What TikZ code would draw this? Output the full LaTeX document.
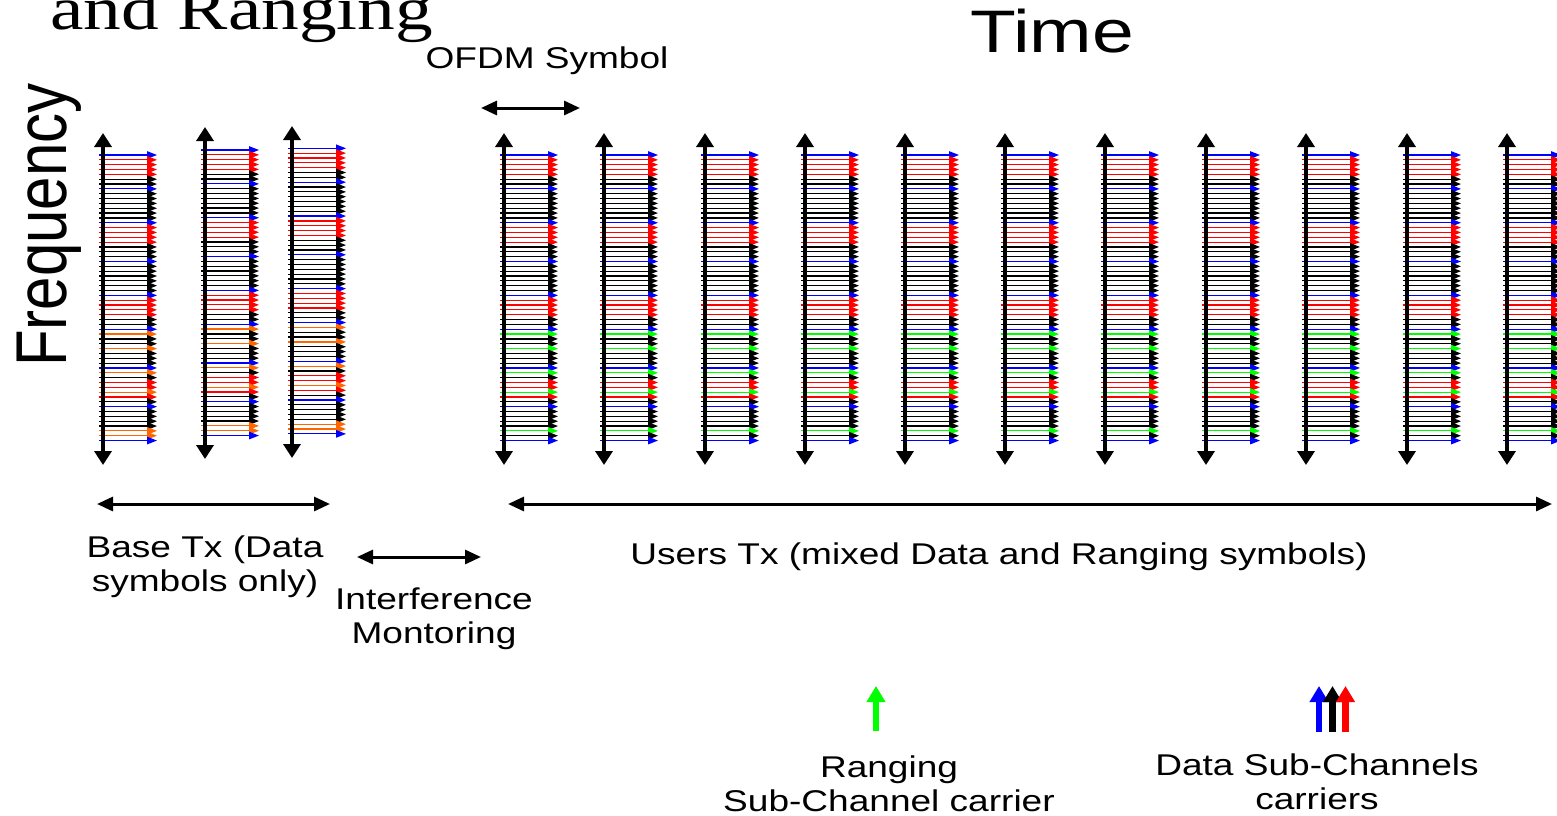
\documentclass[tikz,border=0pt]{standalone}
\usepackage{fontspec}
\setmainfont{Liberation Sans}
\newfontfamily\titleserif{Liberation Serif}
\usepackage{graphicx}
\usetikzlibrary{arrows.meta}
\definecolor{ofdmorange}{RGB}{255,102,0}
\definecolor{ofdmgreen}{RGB}{0,255,0}
\newcommand{\hs}[1]{\scalebox{1.235}[1]{#1}}
\newcommand{\twoline}[2]{\hs{\begin{tabular}[t]{@{}c@{}}#1\\#2\end{tabular}}}
\def\userpat{pB,pR,pR,pR,pR,pK,pK,pB,pK,pK,pK,pK,pK,pK,pB,pR,pR,pR,pR,pK,pK,pK,pB,pK,pK,pK,pK,pK,pK,pB,pR,pR,pR,pR,pK,pK,pB,pG,pK,pK,pG,pK,pK,pK,pB,pG,pK,pR,pR,pG,pR,pK,pB,pK,pK,pK,pK,pG,pK,pB}
\def\basepat{pB,pR,pR,pR,pR,pK,pK,pB,pK,pK,pK,pK,pK,pK,pB,pR,pR,pR,pR,pK,pK,pK,pB,pK,pK,pK,pK,pK,pK,pB,pR,pR,pR,pR,pK,pK,pB,pO,pK,pK,pO,pK,pK,pK,pB,pO,pK,pR,pR,pO,pR,pK,pB,pK,pK,pK,pK,pO,pO,pB}
\newcommand{\symcol}[5]{%
  \foreach \c [count=\i from 0] in #5 {%
    \draw[subc, \c] ({#1-4}, {#4+\i*4.84}) -- ({#1+54}, {#4+\i*4.84});
  }%
  \draw[axisarr] (#1,#2) -- (#1,#3);
}
\begin{document}
\begin{tikzpicture}[x=1bp,y=-1bp,
  pB/.style={draw=blue}, pR/.style={draw=red}, pK/.style={draw=black},
  pG/.style={draw=ofdmgreen}, pO/.style={draw=ofdmorange},
  subc/.style={line width=1.2bp, -{Triangle[length=10bp,width=7.5bp]}},
  axisarr/.style={line width=4.5bp, {Triangle[length=14bp,width=17bp]}-{Triangle[length=14bp,width=17bp]}},
  bigarr/.style={line width=3bp, {Triangle[length=16bp,width=14bp]}-{Triangle[length=16bp,width=14bp]}},
  legarr/.style={line width=6.2bp, -{Triangle[length=16bp,width=18bp]}},
  lbl/.style={font=\fontsize{30bp}{34bp}\selectfont, inner sep=0, anchor=base},
  big/.style={font=\fontsize{60bp}{60bp}\selectfont, inner sep=0}
]
\useasboundingbox (0,0) rectangle (1557,815);

% titles
\node[font=\titleserif\fontsize{61bp}{61bp}\selectfont, inner sep=0, anchor=base west] (title) at (50,30) {\hs{and Ranging}};
\node[big, anchor=base west] (time) at (970,53) {\scalebox{1.25}[1]{Time}};
\node[big, rotate=90, anchor=base] (freq) at (66,225) {\scalebox{1}[1.2]{Frequency}};

% OFDM symbol marker
\node[lbl] (ofdm) at (547,69) {\hs{OFDM Symbol}};
\coordinate (ofdmL) at (481,108);
\coordinate (ofdmR) at (580,108);
\draw[bigarr] (ofdmL) -- (ofdmR);

% symbol columns
\symcol{103}{133}{465}{155}{\basepat}
\symcol{205}{127}{459}{150}{\basepat}
\symcol{292}{126}{458}{148.3}{\basepat}
\foreach \xx in {504,604,705,805,905,1005,1105,1206,1306,1407,1507} {
  \symcol{\xx}{133}{465}{155}{\userpat}
}

% span arrows
\coordinate (baseL) at (97,504);
\coordinate (baseR) at (330,504);
\draw[bigarr] (baseL) -- (baseR);
\coordinate (usrL) at (508,504);
\coordinate (usrR) at (1552,504);
\draw[bigarr] (usrL) -- (usrR);
\coordinate (intL) at (357,557);
\coordinate (intR) at (481,557);
\draw[bigarr] (intL) -- (intR);

\node[lbl] (basetx) at (205,557) {\twoline{Base Tx (Data}{symbols only)}};
\node[lbl] (intf) at (434,609) {\twoline{Interference}{Montoring}};
\node[lbl] (users) at (999,564) {\hs{Users Tx (mixed Data and Ranging symbols)}};

% legend
\coordinate (gB) at (876,731);
\coordinate (gT) at (876,686);
\draw[legarr, draw=ofdmgreen] (gB) -- (gT);
\coordinate (bB) at (1319,732);
\coordinate (bT) at (1319,686);
\coordinate (kB) at (1332.5,732);
\coordinate (kT) at (1332.5,686);
\coordinate (rB) at (1345.5,732);
\coordinate (rT) at (1345.5,686);
\draw[legarr, draw=blue] (bB) -- (bT);
\draw[legarr, draw=black] (kB) -- (kT);
\draw[legarr, draw=red] (rB) -- (rT);

\node[lbl] (rng) at (889,777) {\twoline{Ranging}{Sub-Channel carrier}};
\node[lbl] (dsc) at (1317,775) {\twoline{Data Sub-Channels}{carriers}};
\end{tikzpicture}
\end{document}
